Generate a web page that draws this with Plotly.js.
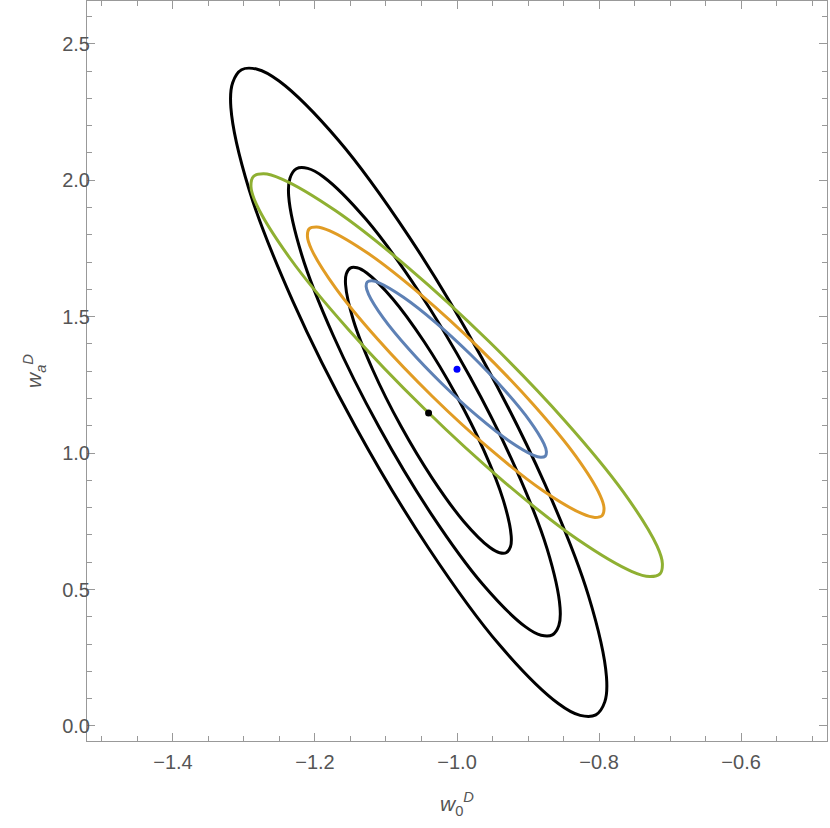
<!DOCTYPE html>
<html lang="en">
<head>
    <meta charset="UTF-8">
    <title>w0 - wa contours</title>
    <script src="https://cdn.plot.ly/plotly-3.0.1.min.js"></script>
    <style>
        body { margin: 0; background: white; }
        #chart { width: 830px; height: 828px; }
    </style>
</head>
<body>
    <div id="chart"></div>
    <script>
        // contour points (w0, wa)
        const blackInnerX = [-0.9303, -0.9400, -0.9536, -0.9902, -1.0343, -1.0794, -1.1185, -1.1458, -1.1569, -1.1558, -1.1503, -1.1406, -1.1270, -1.0904, -1.0462, -1.0012, -0.9620, -0.9348, -0.9237, -0.9247];
        const blackInnerY = [0.6357, 0.6348, 0.6539, 0.7488, 0.9058, 1.1010, 1.3047, 1.4860, 1.6171, 1.6573, 1.6782, 1.6791, 1.6600, 1.5651, 1.4081, 1.2129, 1.0092, 0.8279, 0.6968, 0.6566];

        const blackMidX = [-0.8657, -0.8816, -0.9039, -0.9638, -1.0362, -1.1100, -1.1741, -1.2187, -1.2370, -1.2352, -1.2262, -1.2102, -1.1879, -1.1281, -1.0557, -0.9818, -0.9177, -0.8731, -0.8549, -0.8566];
        const blackMidY = [0.3341, 0.3326, 0.3640, 0.5194, 0.7766, 1.0964, 1.4302, 1.7272, 1.9420, 2.0078, 2.0421, 2.0436, 2.0122, 1.8569, 1.5997, 1.2798, 0.9460, 0.6491, 0.4342, 0.3684];

        const blackOuterX = [-0.8045, -0.8266, -0.8574, -0.9403, -1.0404, -1.1427, -1.2314, -1.2931, -1.3184, -1.3159, -1.3034, -1.2813, -1.2505, -1.1676, -1.0674, -0.9652, -0.8765, -0.8148, -0.7895, -0.7919];
        const blackOuterY = [0.0409, 0.0389, 0.0823, 0.2974, 0.6534, 1.0960, 1.5580, 1.9690, 2.2664, 2.3575, 2.4050, 2.4070, 2.3636, 2.1485, 1.7926, 1.3499, 0.8879, 0.4769, 0.1795, 0.0884];

        const blueX = [-0.8756, -0.8820, -0.8929, -0.9266, -0.9716, -1.0211, -1.0676, -1.1039, -1.1245, -1.1279, -1.1264, -1.1200, -1.1091, -1.0754, -1.0304, -0.9809, -0.9345, -0.8981, -0.8775, -0.8741];
        const blueY = [0.9890, 0.9847, 0.9928, 1.0446, 1.1364, 1.2544, 1.3806, 1.4957, 1.5822, 1.6104, 1.6270, 1.6313, 1.6232, 1.5714, 1.4796, 1.3616, 1.2354, 1.1203, 1.0338, 1.0056];

        const orangeX = [-0.7955, -0.8059, -0.8238, -0.8793, -0.9534, -1.0349, -1.1113, -1.1711, -1.2051, -1.2106, -1.2082, -1.1977, -1.1798, -1.1243, -1.0502, -0.9687, -0.8923, -0.8325, -0.7985, -0.7930];
        const orangeY = [0.7716, 0.7645, 0.7779, 0.8631, 1.0143, 1.2085, 1.4162, 1.6056, 1.7481, 1.7945, 1.8218, 1.8289, 1.8156, 1.7304, 1.5791, 1.3849, 1.1772, 0.9878, 0.8453, 0.7989];

        const greenX = [-0.7142, -0.7287, -0.7536, -0.8305, -0.9333, -1.0463, -1.1523, -1.2352, -1.2824, -1.2901, -1.2866, -1.2722, -1.2473, -1.1703, -1.0675, -0.9545, -0.8485, -0.7656, -0.7184, -0.7108];
        const greenY = [0.5574, 0.5476, 0.5661, 0.6843, 0.8940, 1.1634, 1.4514, 1.7142, 1.9117, 1.9761, 2.0140, 2.0238, 2.0053, 1.8872, 1.6774, 1.4080, 1.1200, 0.8572, 0.6597, 0.5953];

        // best-fit points
        const blackDot = [-1.04, 1.147];
        const blueDot = [-1.0, 1.307];

        const xTicks = [-1.4, -1.2, -1.0, -0.8, -0.6];
        const yTicks = [0.0, 0.5, 1.0, 1.5, 2.0, 2.5];

        // closed loop: repeat the first point so plotly smooths it as a closed curve
        function loop(xs, ys, color) {
            return {
                x: xs.concat([xs[0]]),
                y: ys.concat([ys[0]]),
                type: 'scatter',
                mode: 'lines',
                line: { color: color, width: 3, shape: 'spline', smoothing: 1 },
                hoverinfo: 'skip',
                showlegend: false
            };
        }

        function dot(p, color) {
            return {
                x: [p[0]], y: [p[1]],
                type: 'scatter',
                mode: 'markers',
                marker: { color: color, size: 7 },
                showlegend: false
            };
        }

        const data = [
            loop(blackOuterX, blackOuterY, '#000000'),
            loop(blackMidX, blackMidY, '#000000'),
            loop(blackInnerX, blackInnerY, '#000000'),
            loop(greenX, greenY, '#8fb032'),
            loop(orangeX, orangeY, '#e19c24'),
            loop(blueX, blueY, '#5e81b5'),
            dot(blackDot, '#000000'),
            dot(blueDot, '#0000ff')
        ];

        const tickFont = { family: 'Liberation Sans, Arial, sans-serif', size: 20, color: '#555555' };
        const titleFont = { family: 'Liberation Sans, Arial, sans-serif', size: 21, color: '#555555' };
        const frame = {
            showline: true,
            linecolor: '#999999',
            linewidth: 1,
            mirror: 'ticks',
            ticks: 'inside',
            ticklen: 8,
            tickcolor: '#999999',
            tickwidth: 1,
            showgrid: false,
            zeroline: false,
            tickformat: '.1f',
            tickfont: tickFont
        };

        const layout = {
            width: 830,
            height: 828,
            margin: { l: 87, r: 3, t: 1, b: 87 },
            paper_bgcolor: 'white',
            plot_bgcolor: 'white',
            xaxis: Object.assign({}, frame, {
                range: [-1.521, -0.479],
                tickmode: 'array',
                tickvals: xTicks,
                ticklabelstandoff: 3,
                minor: { dtick: 0.05, ticks: 'inside', ticklen: 5, tickcolor: '#999999', showgrid: false },
                title: { text: '<i>w</i><sub>0</sub><sup><i>D</i></sup>', font: titleFont, standoff: 24 }
            }),
            yaxis: Object.assign({}, frame, {
                range: [-0.055, 2.657],
                tickmode: 'array',
                tickvals: yTicks,
                ticklabelstandoff: -8,
                minor: { dtick: 0.1, ticks: 'inside', ticklen: 5, tickcolor: '#999999', showgrid: false },
                title: { text: '<i>w</i><sub><i>a</i></sub><sup><i>D</i></sup>', font: titleFont, standoff: 14 }
            })
        };

        Plotly.newPlot('chart', data, layout, { displayModeBar: false, staticPlot: true });
    </script>
</body>
</html>
